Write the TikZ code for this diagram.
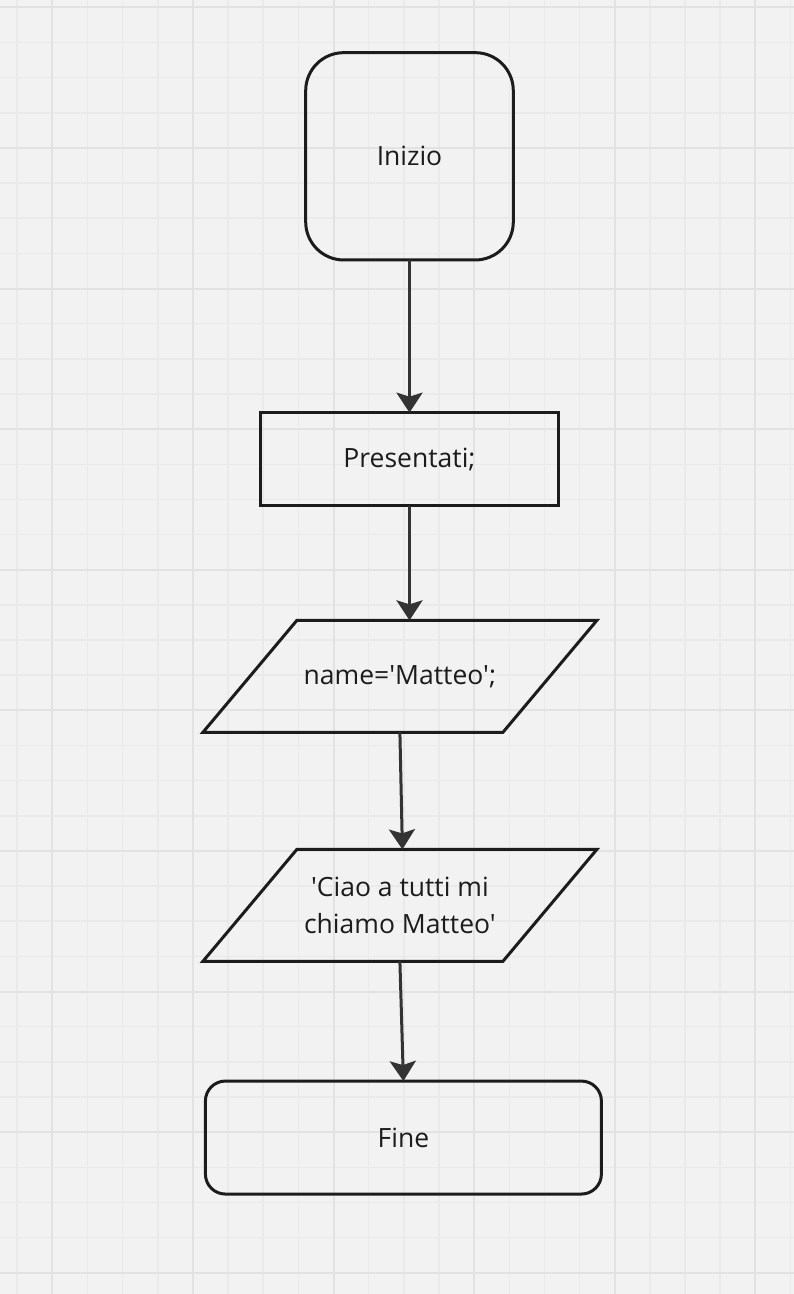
\documentclass[tikz,border=0pt]{standalone}
\usepackage{fontspec}
\setmainfont{Open Sans}[Ligatures=TeXOff]
\usepackage{tikz}
\usetikzlibrary{
  arrows.meta,
  positioning, calc
}
\definecolor{paper}{RGB}{242,242,242}
\definecolor{gridminor}{RGB}{234,234,234}
\definecolor{gridmajor}{RGB}{226,226,226}
\definecolor{inkdark}{RGB}{28,28,28}
\definecolor{arrowgray}{RGB}{51,51,51}
\tikzset{
  basebox/.style={draw=inkdark,line width=3pt,outer sep=0pt,inner sep=0pt,align=center,
    text=inkdark,font=\fontsize{26.5}{37}\selectfont},
  termnode/.style={basebox,rectangle,rounded corners=38pt},
  procnode/.style={basebox,rectangle,minimum width=298pt,minimum height=93pt},
  ionode/.style={basebox,draw=none,rectangle,minimum width=300pt,minimum height=112pt},
  ioframe/.style={draw=inkdark,line width=3pt,line join=miter},
  arr/.style={-{Stealth[length=20pt,width=26pt,inset=4pt]},line width=3pt,color=arrowgray},
  minorline/.style={gridminor,line width=1.5pt},
  majorline/.style={gridmajor,line width=2pt}
}

\begin{document}
\begin{tikzpicture}[x=1pt,y=1pt]
  \useasboundingbox (0,0) rectangle (794,-1294);
  % background grid
  \fill[paper] (0,0) rectangle (794,-1294);
  \foreach \i in {0,...,22} \draw[minorline] ({17.15+35.15*\i},0) -- ++(0,-1294);
  \foreach \i in {0,...,36} \draw[minorline] (0,{-7.3-35.15*\i}) -- ++(794,0);
  \foreach \i in {0,...,5} \draw[majorline] ({52.3+140.6*\i},0) -- ++(0,-1294);
  \foreach \i in {0,...,9} \draw[majorline] (0,{-7.3-140.6*\i}) -- ++(794,0);

  % flowchart
  \node[termnode,minimum width=207.6pt,minimum height=207.3pt] (inizio) at (409.5,-156.3) {Inizio};
  \node[procnode,below=152.7pt of inizio] (presentati) {Presentati;};
  \node[ionode,below=114.7pt of presentati,xshift=-9.6pt] (nome) {name='Matteo';};
  \node[ionode,below=117pt of nome] (saluto) {'Ciao a tutti mi\\chiamo Matteo'};
  \node[termnode,rounded corners=20pt,minimum width=396pt,minimum height=113pt,
    below=119.7pt of saluto,xshift=3.5pt] (fine) {Fine};
  % parallelogram frames of the input/output nodes
  \foreach \n in {nome,saluto}
    \draw[ioframe] ([xshift=47pt]\n.north west) -- ([xshift=47pt]\n.north east)
      -- ([xshift=-47pt]\n.south east) -- ([xshift=-47pt]\n.south west) -- cycle;

  \draw[arr] (inizio)--(presentati);
  \draw[arr] (presentati.south)--(presentati.south |- nome.north);
  \draw[arr] (nome.south)--([xshift=2.5pt]saluto.north);
  \draw[arr] (saluto.south)--(fine.north);
\end{tikzpicture}
\end{document}
